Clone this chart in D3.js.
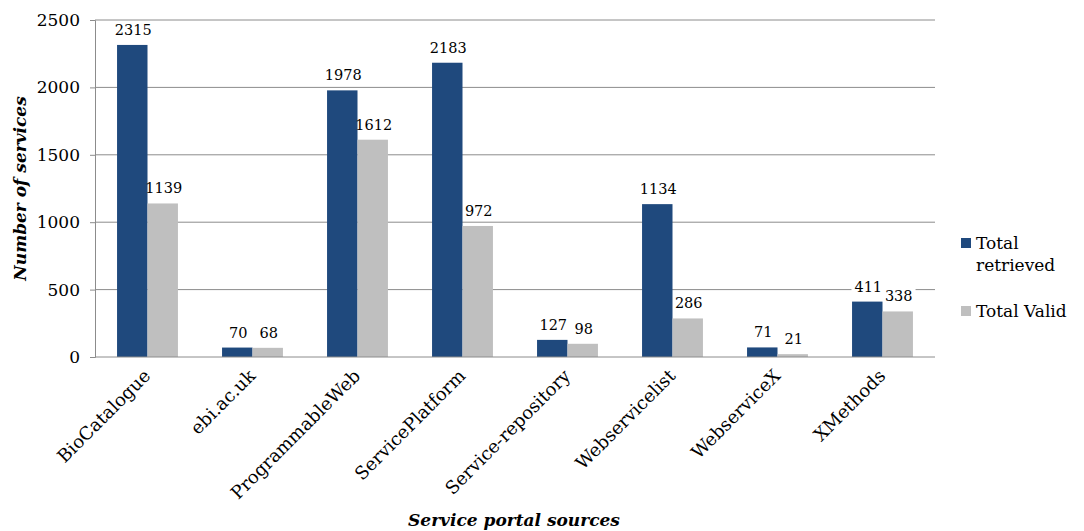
<!DOCTYPE html>
<html><head><meta charset="utf-8">
<script src="https://cdn.jsdelivr.net/npm/d3@7"></script>
<style>body{margin:0;background:#fff}svg{display:block}</style>
</head><body>
<script>
const categories = ["BioCatalogue","ebi.ac.uk","ProgrammableWeb","ServicePlatform","Service-repository","Webservicelist","WebserviceX","XMethods"];
const totalRetrieved = [2315,70,1978,2183,127,1134,71,411];
const totalValid = [1139,68,1612,972,98,286,21,338];
const seriesNames = ["Total retrieved","Total Valid"];
const yTicks = [0,500,1000,1500,2000,2500];

const W=1084,H=531;
const m={left:95,right:149,top:20,bottom:174};
const colors=["#1f497d","#bfbfbf"];
const font="'DejaVu Serif', 'Liberation Serif', serif";

const svg=d3.select("body").append("svg").attr("width",W).attr("height",H);
const x=d3.scaleBand().domain(categories).range([m.left,W-m.right]).paddingInner(0.42).paddingOuter(0.21);
const x1=d3.scaleBand().domain([0,1]).range([0,x.bandwidth()]);
const y=d3.scaleLinear().domain([0,2500]).range([H-m.bottom,m.top]);

// gridlines
svg.append("g").selectAll("line").data(yTicks.slice(1)).join("line")
 .attr("x1",m.left).attr("x2",W-m.right).attr("y1",d=>y(d)).attr("y2",d=>y(d))
 .attr("stroke","#8c8c8c").attr("stroke-width",1);

// y axis
const ya=svg.append("g").attr("transform",`translate(${m.left},0)`)
 .call(d3.axisLeft(y).tickValues(yTicks).tickSize(5).tickPadding(10).tickFormat(d3.format("d")));
ya.selectAll("path,line").attr("stroke","#8c8c8c");
ya.selectAll("text").attr("font-family",font).attr("font-size",17).attr("fill","#000");

const data=categories.map((c,i)=>({c,v:[totalRetrieved[i],totalValid[i]]}));
const bgLayer=svg.append("g");
const barLayer=svg.append("g");
const textLayer=svg.append("g");

// bars
const g=barLayer.selectAll("g").data(data).join("g").attr("transform",d=>`translate(${x(d.c)},0)`);
g.selectAll("rect").data(d=>d.v.map((v,k)=>({v,k}))).join("rect")
 .attr("x",d=>x1(d.k)).attr("width",x1.bandwidth()).attr("y",d=>y(d.v)).attr("height",d=>y(0)-y(d.v))
 .attr("fill",d=>colors[d.k]);

// x axis line
svg.append("line").attr("x1",m.left).attr("x2",W-m.right).attr("y1",y(0)).attr("y2",y(0)).attr("stroke","#8c8c8c");

// labels with white background (background under bars, hides gridlines only)
data.forEach(d=>{
  d.v.forEach((v,k)=>{
    const cx=x(d.c)+x1(k)+x1.bandwidth()/2+1, by=y(v)-10;
    const t=textLayer.append("text").attr("x",cx).attr("y",by).attr("text-anchor","middle")
     .attr("font-family",font).attr("font-size",14.5).attr("fill","#000").text(v);
    const bb=t.node().getBBox();
    bgLayer.append("rect").attr("x",bb.x-3).attr("y",bb.y).attr("width",bb.width+6).attr("height",bb.height).attr("fill","#fff");
  });
});

// x labels
svg.append("g").selectAll("text").data(categories).join("text")
 .attr("transform",d=>`translate(${x(d)+x.bandwidth()/2+4},${y(0)+20}) rotate(-45)`)
 .attr("text-anchor","end").attr("font-family",font).attr("font-size",18).attr("fill","#000").text(d=>d);

// axis titles
svg.append("text").attr("transform",`translate(26,${(y(0)+y(2500))/2}) rotate(-90)`)
 .attr("text-anchor","middle").attr("font-family",font).attr("font-size",17).attr("font-weight","bold").attr("font-style","italic").text("Number of services");
svg.append("text").attr("x",514).attr("y",526).attr("text-anchor","middle")
 .attr("font-family",font).attr("font-size",17).attr("font-weight","bold").attr("font-style","italic").text("Service portal sources");

// legend
const lg=svg.append("g").attr("transform","translate(961,0)");
const legY=[243,311];
seriesNames.forEach((s,i)=>{
  lg.append("rect").attr("x",0).attr("y",legY[i]-5).attr("width",10).attr("height",10).attr("fill",colors[i]);
  const t=lg.append("text").attr("x",15).attr("y",legY[i]+6).attr("font-family",font).attr("font-size",17).attr("fill","#000");
  if(i===0){t.append("tspan").attr("x",15).text("Total");t.append("tspan").attr("x",15).attr("dy",22).text("retrieved");}
  else t.text(s);
});
</script>
</body></html>
